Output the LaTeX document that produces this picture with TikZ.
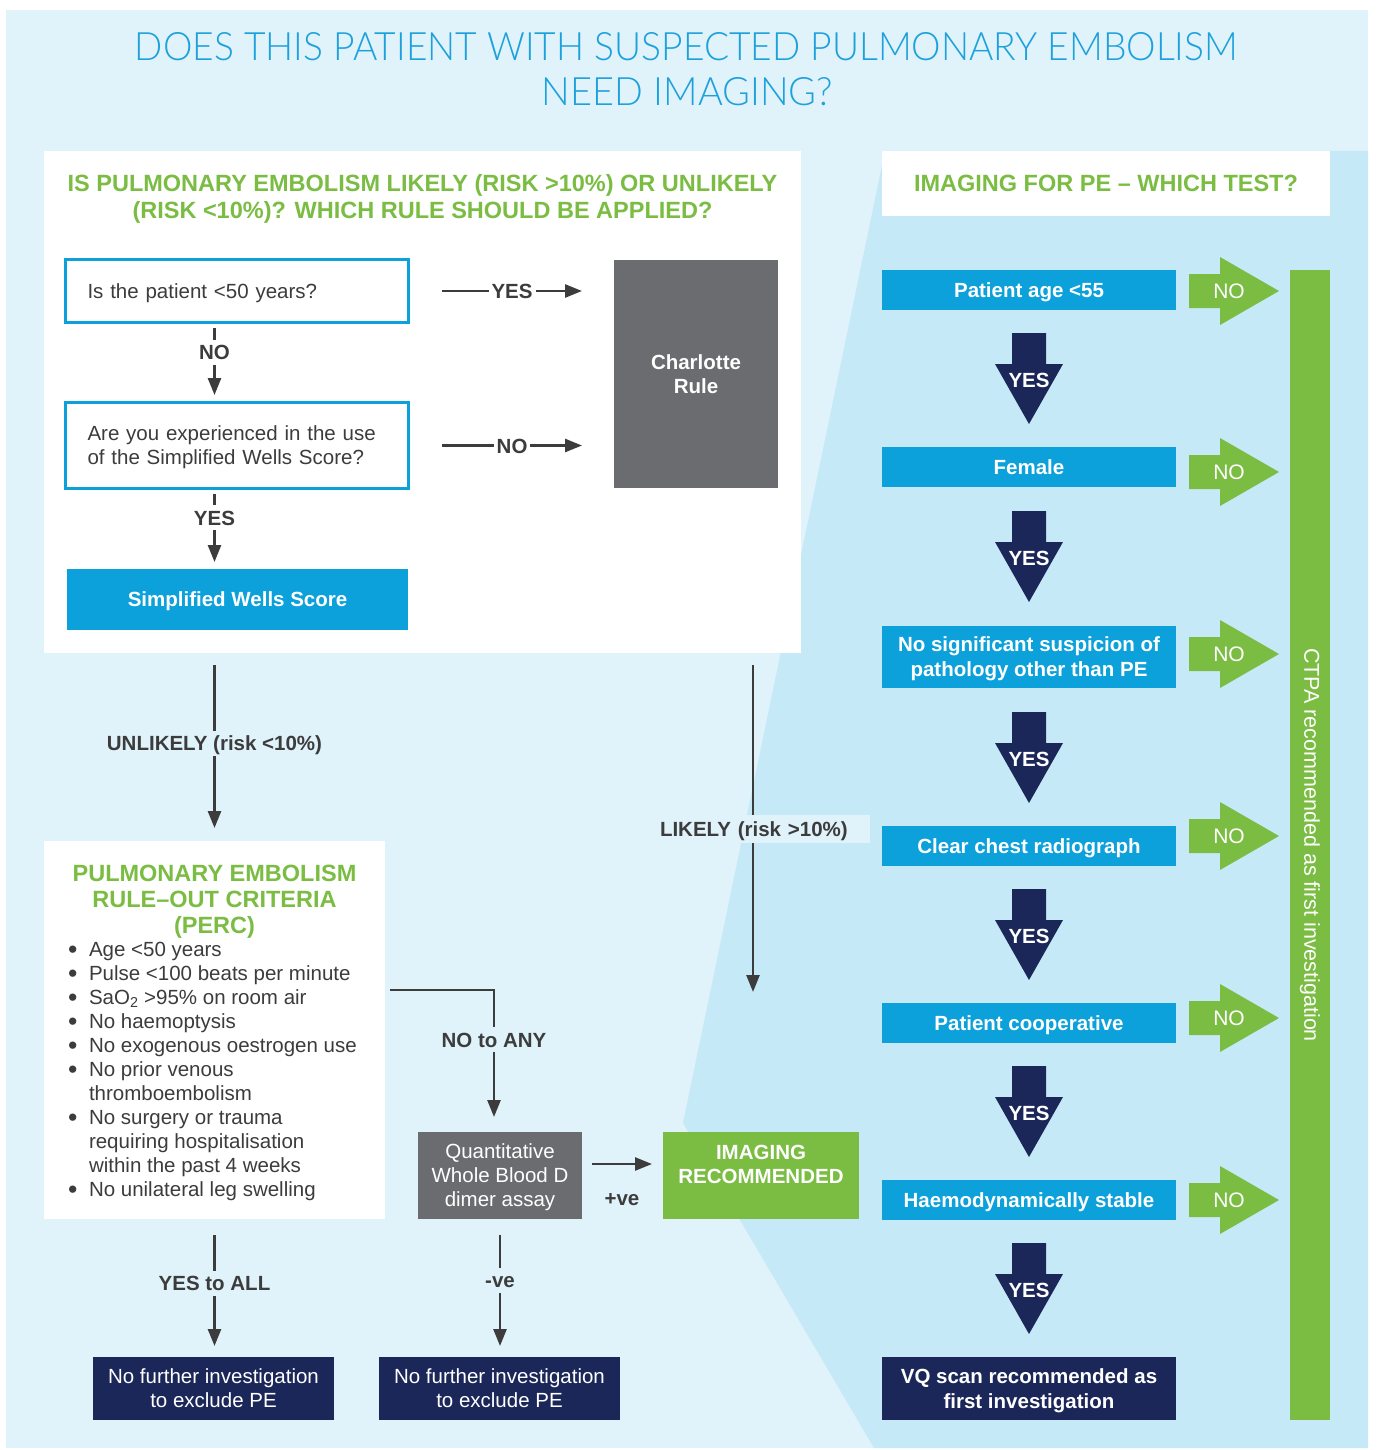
\documentclass[tikz,border=0pt]{standalone}
\usepackage{fontspec}
\setmainfont{Liberation Sans}
\newfontfamily\titlefont{Lato Light}
\usepackage{graphicx}
\usetikzlibrary{arrows.meta,calc}
\definecolor{bglight}{HTML}{E0F2FA}
\definecolor{bgdark}{HTML}{C6E9F8}
\definecolor{pblue}{HTML}{0DA1DC}
\definecolor{pgreen}{HTML}{7ABD42}
\definecolor{pnavy}{HTML}{1B2758}
\definecolor{pgray}{HTML}{6B6C6F}
\definecolor{ptext}{HTML}{3C3C3C}
\definecolor{ptitle}{HTML}{1DA1DC}
\newcommand\percbul{\makebox[21pt][l]{\raisebox{-2.6pt}[0pt][0pt]{\scalebox{1.3}{\textbullet}}}}
\begin{document}
\begin{tikzpicture}[x=1pt,y=-1pt,
  every node/.style={outer sep=0pt, inner sep=0pt},
  basefont/.style={font=\fontsize{20.5}{24}\selectfont},
  greenhead/.style={font=\fontsize{23.5}{27}\selectfont\bfseries, text=pgreen, align=center},
  qbox/.style={draw=pblue, line width=3pt, fill=white, text=ptext, font=\fontsize{20.5}{24}\selectfont, align=left, text width=299pt, inner xsep=22pt, minimum width=343pt},
  fillbox/.style={font=\fontsize{20.5}{24}\selectfont, text=white, align=center},
  rbox/.style={fill=pblue, font=\fontsize{20.5}{25}\selectfont\bfseries, text=white, align=center, minimum width=294pt},
  nodepth/.style={text depth=0pt},
  arr/.style={draw=ptext, line width=2.6pt, -{Triangle[length=17pt,width=13pt]}},
  lbl/.style={font=\fontsize{20.5}{24}\selectfont\bfseries, text=ptext, inner xsep=3pt, inner ysep=5pt, text height=15pt, text depth=0pt},
  yesarrow/.pic={
    \fill[pnavy] (-17,0) -- (17,0) -- (17,31) -- (34,31) -- (0,91) -- (-34,31) -- (-17,31) -- cycle;
    \node[font=\fontsize{20.5}{24}\selectfont\bfseries, text=white] at (0,47) {YES};
  },
  noarrow/.pic={
    \fill[pgreen] (0,-17) -- (31,-17) -- (31,-34) -- (90,0) -- (31,34) -- (31,17) -- (0,17) -- cycle;
    \node[font=\fontsize{21}{24}\selectfont, text=white] at (40,0) {NO};
  }
]
\useasboundingbox (0,0) rectangle (1376,1450);
\fill[white] (0,0) rectangle (1376,1450);
% backgrounds
\fill[bglight] (6,10) rectangle (1368,1448);
\fill[bgdark] (885,151) -- (1368,151) -- (1368,1448) -- (874,1448) -- (683,1123) -- cycle;

% title
\node[anchor=base, text=ptitle] (title1) at (686.5,61) {\resizebox{1103pt}{28pt}{\titlefont DOES THIS PATIENT WITH SUSPECTED PULMONARY EMBOLISM}};
\node[anchor=base, text=ptitle] (title2) at (687.5,106) {\resizebox{291pt}{28pt}{\titlefont NEED IMAGING?}};

% left upper panel
\node[fill=white, minimum width=757pt, minimum height=502pt] (leftpanel) at (422.5,402) {};
\node[greenhead] (lhead) at (422.5,199) {IS PULMONARY EMBOLISM LIKELY (RISK >10\%) OR UNLIKELY\\(RISK <10\%)? WHICH RULE SHOULD BE APPLIED?};

\node[qbox, nodepth, minimum height=63pt] (box1) at (237,291) {Is the patient <50 years?};
\node[qbox, text depth=24pt, minimum height=86pt] (box2) at (237,445.5) {Are you experienced in the use\\of the Simplified Wells Score?};
\node[fill=pblue, fillbox, nodepth, font=\fontsize{20.5}{24}\selectfont\bfseries, minimum width=341pt, minimum height=61pt] (wells) at (237.5,599.5) {Simplified Wells Score};
\node[fill=pgray, fillbox, nodepth, font=\fontsize{20.5}{24}\selectfont\bfseries, minimum width=164pt, minimum height=228pt] (charlotte) at (696,374) {Charlotte\\Rule};

% PERC panel
\node[fill=white, minimum width=341pt, minimum height=378pt] (perc) at (214.5,1030) {};
\node[greenhead, font=\fontsize{23.5}{26}\selectfont\bfseries] (perchead) at (214.5,901.5) {PULMONARY EMBOLISM\\RULE–OUT CRITERIA\\(PERC)};
\node[basefont, text=ptext, align=left, anchor=north west] (perclist) at (68,942) {%
\percbul Age <50 years\\
\percbul Pulse <100 beats per minute\\
\percbul SaO\textsubscript{2} >95\% on room air\\
\percbul No haemoptysis\\
\percbul No exogenous oestrogen use\\
\percbul No prior venous\\
\hspace*{21pt}thromboembolism\\
\percbul No surgery or trauma\\
\hspace*{21pt}requiring hospitalisation\\
\hspace*{21pt}within the past 4 weeks\\
\percbul No unilateral leg swelling};

% lower middle boxes
\node[fill=pgray, fillbox, nodepth, minimum width=164pt, minimum height=87pt] (dimer) at (500,1175.5) {Quantitative\\Whole Blood D\\dimer assay};
\node[fill=pgreen, minimum width=196pt, minimum height=87pt] (imaging) at (761,1175.5) {};
\node[fillbox, nodepth, font=\fontsize{20.5}{24}\selectfont\bfseries] (imagingtext) at (761,1164) {IMAGING\\RECOMMENDED};
\node[fill=pnavy, fillbox, nodepth, minimum width=241pt, minimum height=63pt] (nfi1) at (213.5,1388.5) {No further investigation\\to exclude PE};
\node[fill=pnavy, fillbox, nodepth, minimum width=241pt, minimum height=63pt] (nfi2) at (499.5,1388.5) {No further investigation\\to exclude PE};

% right panel
\node[fill=white, minimum width=448pt, minimum height=65pt, greenhead] (rhead) at (1106,183.5) {IMAGING FOR PE – WHICH TEST?};
\node[rbox, nodepth, minimum height=40pt] (rb1) at (1029,290) {Patient age <55};
\node[rbox, nodepth, minimum height=40pt] (rb2) at (1029,467) {Female};
\node[rbox, nodepth, minimum height=62pt] (rb3) at (1029,657) {No significant suspicion of\\pathology other than PE};
\node[rbox, nodepth, minimum height=40pt] (rb4) at (1029,846) {Clear chest radiograph};
\node[rbox, nodepth, minimum height=40pt] (rb5) at (1029,1023) {Patient cooperative};
\node[rbox, nodepth, minimum height=40pt] (rb6) at (1029,1200) {Haemodynamically stable};
\node[rbox, nodepth, fill=pnavy, minimum height=63pt] (vq) at (1029,1388.5) {VQ scan recommended as\\first investigation};
\node[fill=pgreen, rotate=-90, minimum width=1150pt, minimum height=40pt, text=white, font=\fontsize{21.5}{24}\selectfont] (ctpa) at (1310,845) {CTPA recommended as first investigation};

\pic at ($(rb1.south)+(0,23)$) {yesarrow};
\pic at ($(rb2.south)+(0,24)$) {yesarrow};
\pic at ($(rb3.south)+(0,24)$) {yesarrow};
\pic at ($(rb4.south)+(0,23)$) {yesarrow};
\pic at ($(rb5.south)+(0,23)$) {yesarrow};
\pic at ($(rb6.south)+(0,23)$) {yesarrow};

\pic at (1189,291) {noarrow};
\pic at (1189,472) {noarrow};
\pic at (1189,654) {noarrow};
\pic at (1189,836) {noarrow};
\pic at (1189,1018) {noarrow};
\pic at (1189,1200) {noarrow};

% connectors in left panel
\draw[arr, shorten <=33.5pt, shorten >=32pt] (box1.east) -- node[lbl, fill=white, pos=0.504] (yes1) {YES} (box1.east -| charlotte.west);
\draw[arr, shorten <=33.5pt, shorten >=32pt] (box2.east) -- node[lbl, fill=white, pos=0.504] (no1) {NO} (box2.east -| charlotte.west);
\draw[arr, shorten <=5.5pt, shorten >=7.5pt] (box1.south -| perc.north) -- node[lbl, fill=white, pos=0.37] (no2) {NO} (box2.north -| perc.north);
\draw[arr, shorten <=5.5pt, shorten >=7pt] (box2.south -| perc.north) -- node[lbl, fill=white, pos=0.366] (yes2) {YES} (wells.north -| perc.north);

% main flow
\draw[arr, shorten <=12pt, shorten >=13pt] (leftpanel.south -| perc.north) -- node[lbl, fill=bglight, pos=0.479] (unlikely) {UNLIKELY (risk <10\%)} (perc.north);
\coordinate (likelyend) at (753,992);
\draw[arr, shorten <=12pt] (leftpanel.south -| likelyend) -- (likelyend);
\node[lbl, fill=bglight, text width=205pt, align=left, inner xsep=5pt, inner ysep=6.5pt] (likely) at (762.5,829) {LIKELY (risk >10\%)};

\coordinate (noanyturn) at (494,990);
\draw[arr, shorten <=5pt, shorten >=15pt] (perc.east |- noanyturn) -- (noanyturn) -- node[lbl, fill=bglight, pos=0.352] (noany) {NO to ANY} (noanyturn |- dimer.north);
\draw[arr, shorten <=10pt, shorten >=11pt] ([yshift=11.5pt]dimer.east) -- ([yshift=11.5pt]dimer.east -| imaging.west);
\node[lbl, inner sep=0pt] (pos) at (622,1198) {+ve};
\draw[arr, shorten <=16pt, shorten >=11pt] (perc.south) -- node[lbl, fill=bglight, pos=0.464] (yesall) {YES to ALL} (perc.south |- nfi1.north);
\draw[arr, shorten <=16pt, shorten >=11pt] (dimer.south) -- node[lbl, fill=bglight, pos=0.442] (neg) {-ve} (dimer.south |- nfi2.north);
\end{tikzpicture}
\end{document}
